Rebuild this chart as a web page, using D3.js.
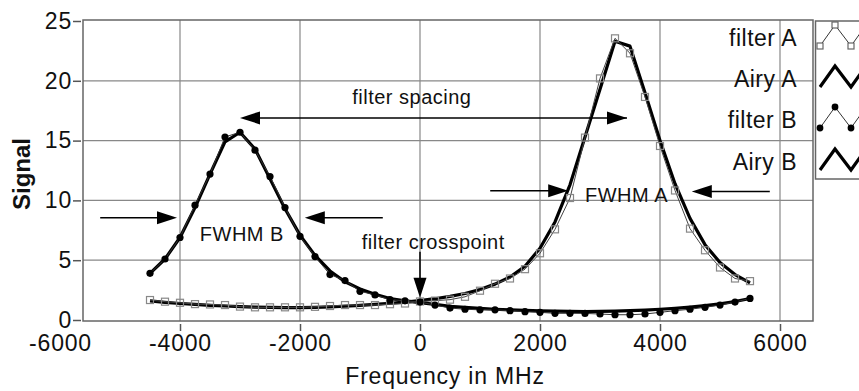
<!DOCTYPE html>
<html>
<head>
<meta charset="utf-8">
<script src="https://cdn.jsdelivr.net/npm/d3@7"></script>
<style>
  body { margin: 0; background: #fff; }
  svg { display: block; font-family: "Liberation Sans", Arial, sans-serif; }
  .tick text { font-size: 23px; letter-spacing: 0.8px; fill: #111; }
  .tick line { stroke: #555; stroke-width: 1.5; }
  .note { font-size: 20px; letter-spacing: 0.5px; fill: #111; }
</style>
</head>
<body>
<div id="chart"></div>
<script>
var svgWidth = 859;
var svgHeight = 391;

// frequency grid of the measurement, MHz
var freq = [-4500, -4250, -4000, -3750, -3500, -3250, -3000, -2750, -2500, -2250,
  -2000, -1750, -1500, -1250, -1000, -750, -500, -250, 0, 250,
  500, 750, 1000, 1250, 1500, 1750, 2000, 2250, 2500, 2750,
  3000, 3250, 3500, 3750, 4000, 4250, 4500, 4750, 5000, 5250, 5500];

var filterA = [1.67, 1.53, 1.44, 1.33, 1.3, 1.25, 1.12, 1.06, 1.06, 1.06,
  1.06, 1.1, 1.17, 1.25, 1.25, 1.25, 1.32, 1.38, 1.55, 1.62,
  1.7, 1.94, 2.45, 3.03, 3.47, 4.25, 5.58, 7.58, 10.2, 15.25,
  20.2, 23.55, 22.3, 18.65, 14.55, 10.83, 7.64, 5.83, 4.39, 3.47, 3.25];

var airyA = [1.6, 1.48, 1.38, 1.3, 1.23, 1.17, 1.12, 1.08, 1.05, 1.04,
  1.04, 1.06, 1.1, 1.15, 1.22, 1.3, 1.4, 1.5, 1.62, 1.78,
  1.98, 2.22, 2.55, 3.0, 3.6, 4.5, 6.0, 8.2, 11.3, 15.3,
  19.3, 23.3, 22.9, 19.0, 15.0, 11.4, 8.5, 6.3, 4.8, 3.8, 3.1];

var filterB = [3.9, 5.1, 6.9, 9.6, 12.2, 15.3, 15.7, 14.2, 12.0, 9.4,
  7.0, 5.3, 3.8, 3.3, 2.4, 2.1, 1.7, 1.6, 1.5, 1.25,
  1.0, 0.9, 0.85, 0.85, 0.78, 0.7, 0.64, 0.56, 0.56, 0.55,
  0.5, 0.44, 0.44, 0.5, 0.64, 0.78, 0.9, 1.06, 1.25, 1.5, 1.8];

var airyB = [3.9, 5.1, 6.9, 9.4, 12.2, 14.9, 15.7, 14.3, 11.8, 9.3,
  7.1, 5.4, 4.1, 3.2, 2.6, 2.15, 1.8, 1.6, 1.45, 1.3,
  1.15, 1.05, 0.97, 0.9, 0.85, 0.8, 0.77, 0.74, 0.72, 0.71,
  0.72, 0.74, 0.78, 0.83, 0.9, 0.98, 1.08, 1.2, 1.35, 1.55, 1.8];

var xTicks = [-6000, -4000, -2000, 0, 2000, 4000, 6000];
var yTicks = [0, 5, 10, 15, 20, 25];
var legendNames = ["filter A", "Airy A", "filter B", "Airy B"];

// plot frame in pixels
var frame = { left: 83, right: 813, top: 20, bottom: 321 };

var svg = d3.select("#chart")
  .append("svg")
  .attr("width", svgWidth)
  .attr("height", svgHeight);

var x = d3.scaleLinear().domain([-6000, 6000]).range([60, 780]);
var y = d3.scaleLinear().domain([0, 25]).range([320, 21]);

// grid
var grid = svg.append("g");
grid.selectAll(".vgrid")
  .data(xTicks.filter(d => x(d) > frame.left && x(d) < frame.right))
  .enter()
  .append("line")
  .attr("x1", d => x(d)).attr("x2", d => x(d))
  .attr("y1", frame.top).attr("y2", frame.bottom)
  .attr("stroke", "#888").attr("stroke-width", 1.2);
grid.selectAll(".hgrid")
  .data(yTicks.filter(d => d > 0 && d < 25))
  .enter()
  .append("line")
  .attr("x1", frame.left).attr("x2", frame.right)
  .attr("y1", d => y(d)).attr("y2", d => y(d))
  .attr("stroke", "#888").attr("stroke-width", 1.2);

// frame
svg.append("rect")
  .attr("x", frame.left).attr("y", frame.top)
  .attr("width", frame.right - frame.left)
  .attr("height", frame.bottom - frame.top)
  .attr("fill", "none").attr("stroke", "#666").attr("stroke-width", 1.5);

// axes
var xAxis = svg.append("g")
  .attr("transform", "translate(0, 324)")
  .call(d3.axisBottom(x).tickValues(xTicks).tickSize(7).tickPadding(4)
    .tickFormat(d => String(d)));
xAxis.select(".domain").remove();
xAxis.selectAll(".tick line").filter(d => x(d) < frame.left).remove();

var yAxis = svg.append("g")
  .attr("transform", "translate(81, 0)")
  .call(d3.axisLeft(y).tickValues(yTicks).tickSize(8).tickPadding(1)
    .tickFormat(d => String(d)));
yAxis.select(".domain").remove();

svg.append("text")
  .attr("transform", "translate(30, 174) rotate(-90)")
  .attr("text-anchor", "middle")
  .attr("font-size", 24)
  .attr("font-weight", "bold")
  .attr("fill", "#111")
  .text("Signal");

svg.append("text")
  .attr("x", 445)
  .attr("y", 384)
  .attr("text-anchor", "middle")
  .attr("font-size", 23)
  .attr("letter-spacing", 0.8)
  .attr("fill", "#111")
  .text("Frequency in MHz");

// curves
var line = d3.line()
  .x((d, i) => x(freq[i]))
  .y(d => y(d));

var curves = svg.append("g");
curves.append("path").attr("d", line(airyB))
  .attr("fill", "none").attr("stroke", "#000").attr("stroke-width", 3.2)
  .attr("stroke-linejoin", "round");
curves.append("path").attr("d", line(airyA))
  .attr("fill", "none").attr("stroke", "#000").attr("stroke-width", 3.2)
  .attr("stroke-linejoin", "round");
curves.append("path").attr("d", line(filterA))
  .attr("fill", "none").attr("stroke", "#444").attr("stroke-width", 1);
curves.append("path").attr("d", line(filterB))
  .attr("fill", "none").attr("stroke", "#333").attr("stroke-width", 1);

curves.selectAll(".sq")
  .data(filterA)
  .enter()
  .append("rect")
  .attr("x", (d, i) => x(freq[i]) - 3.5)
  .attr("y", d => y(d) - 3.5)
  .attr("width", 7).attr("height", 7)
  .attr("fill", "none").attr("stroke", "#888").attr("stroke-width", 1.2);

curves.selectAll(".dot")
  .data(filterB)
  .enter()
  .append("circle")
  .attr("cx", (d, i) => x(freq[i]))
  .attr("cy", d => y(d))
  .attr("r", 3.6)
  .attr("fill", "#000");

// annotations (data units)
function arrow(x1, y1, x2, y2, both) {
  var px1 = x(x1), py1 = y(y1), px2 = x(x2), py2 = y(y2);
  var ang = Math.atan2(py2 - py1, px2 - px1);
  var len = 20, half = 6.5;
  function head(tx, ty, a) {
    var bx = tx - len * Math.cos(a), by = ty - len * Math.sin(a);
    var nx = -Math.sin(a) * half, ny = Math.cos(a) * half;
    svg.append("path")
      .attr("d", `M${tx},${ty}L${bx + nx},${by + ny}L${bx - nx},${by - ny}Z`)
      .attr("fill", "#000");
  }
  svg.append("line")
    .attr("x1", px1).attr("y1", py1)
    .attr("x2", px2 - 10 * Math.cos(ang)).attr("y2", py2 - 10 * Math.sin(ang))
    .attr("stroke", "#000").attr("stroke-width", 1.5);
  head(px2, py2, ang);
  if (both) head(px1, py1, ang + Math.PI);
}

arrow(3450, 16.9, -3000, 16.9, true);
arrow(-5330, 8.55, -4050, 8.55);
arrow(-620, 8.55, -1920, 8.55);
arrow(1170, 10.8, 2470, 10.8);
arrow(5830, 10.75, 4530, 10.75);
arrow(0, 5.7, 0, 1.85);

svg.append("text").attr("class", "note")
  .attr("x", x(-1130)).attr("y", y(18.1)).text("filter spacing");
svg.append("text").attr("class", "note")
  .attr("x", x(-3670)).attr("y", y(6.6)).text("FWHM B");
svg.append("text").attr("class", "note")
  .attr("x", x(2750)).attr("y", y(9.9)).text("FWHM A");
svg.append("text").attr("class", "note")
  .attr("x", x(-970)).attr("y", y(5.9)).text("filter crosspoint");

// legend
var legendY = [46, 87, 128, 170];
svg.selectAll(".legtext")
  .data(legendNames)
  .enter()
  .append("text")
  .attr("x", 797)
  .attr("y", (d, i) => legendY[i])
  .attr("text-anchor", "end")
  .attr("font-size", 23)
  .attr("letter-spacing", 0.5)
  .attr("fill", "#111")
  .text(d => d);

svg.append("rect")
  .attr("x", 815.5).attr("y", 21)
  .attr("width", 60).attr("height", 158)
  .attr("fill", "none").attr("stroke", "#666").attr("stroke-width", 1.5);

var zig = [[820, 0], [835, -21], [851, 0], [866, -21]];
legendY.forEach(function(by, i) {
  var pts = zig.map(p => [p[0], by + p[1]]);
  var thick = i % 2 === 1;
  svg.append("path")
    .attr("d", d3.line()(pts))
    .attr("fill", "none")
    .attr("stroke", thick ? "#000" : "#333")
    .attr("stroke-width", thick ? 3.2 : 1)
    .attr("stroke-linejoin", "miter");
  if (i === 0) {
    pts.slice(0, 3).forEach(function(p) {
      svg.append("rect")
        .attr("x", p[0] - 3).attr("y", p[1] - 3)
        .attr("width", 6).attr("height", 6)
        .attr("fill", "#fff").attr("stroke", "#666").attr("stroke-width", 1.2);
    });
  }
  if (i === 2) {
    pts.slice(0, 3).forEach(function(p) {
      svg.append("circle")
        .attr("cx", p[0]).attr("cy", p[1]).attr("r", 3.4)
        .attr("fill", "#000");
    });
  }
});
</script>
</body>
</html>
